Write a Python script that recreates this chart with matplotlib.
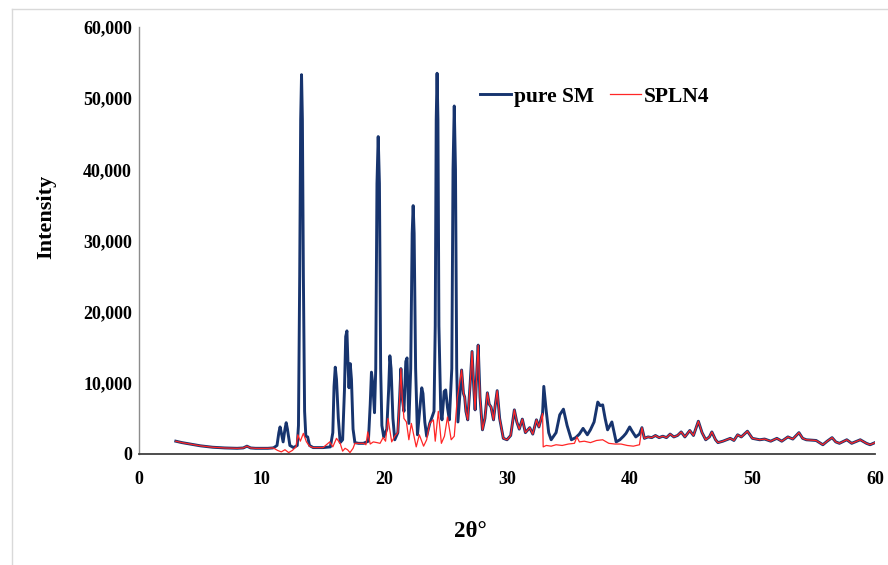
import matplotlib
matplotlib.use("Agg")
import numpy as np
from matplotlib import pyplot as plt
from matplotlib.lines import Line2D
from matplotlib.ticker import FuncFormatter

plt.rcParams['font.family'] = ['Liberation Serif', 'DejaVu Serif']
plt.rcParams['font.weight'] = 'bold'

# low-angle stretch, identical for both samples
start_x = [3.0, 3.5, 4.0, 4.5, 5.0, 5.5, 6.0, 7.0, 8.0, 8.5, 8.8, 9.1, 9.5, 10.0, 10.5, 10.9]
start_y = [1800, 1600, 1450, 1300, 1150, 1050, 950, 850, 800, 850, 1100, 850, 800, 800, 800, 850]

# pure SM, 11-26 deg
sm_a_x = [11.0, 11.25, 11.4, 11.5, 11.6, 11.75, 11.9, 12.0, 12.1, 12.3, 12.6, 12.9, 13.0, 13.1,
          13.18, 13.25, 13.32, 13.4, 13.5, 13.6, 13.75, 13.9, 14.2, 15.0, 15.6, 15.8, 15.9, 16.0,
          16.1, 16.25, 16.4, 16.6, 16.75, 16.85, 16.95, 17.05, 17.12, 17.22, 17.32, 17.45, 17.6,
          17.9, 18.3, 18.7, 18.85, 18.95, 19.05, 19.2, 19.3, 19.4, 19.5, 19.6, 19.7, 19.8, 19.95,
          20.2, 20.35, 20.45, 20.55, 20.7, 20.85, 21.1, 21.25, 21.35, 21.45, 21.6, 21.75, 21.85,
          22.0, 22.15, 22.27, 22.35, 22.43, 22.55, 22.7, 22.9, 23.05, 23.15, 23.3, 23.45, 23.7,
          23.85, 24.05, 24.15, 24.23, 24.3, 24.37, 24.45, 24.6, 24.7, 24.88, 25.0, 25.15, 25.3,
          25.5, 25.6, 25.7, 25.8, 25.9, 26.0]
sm_a_y = [900, 1200, 3000, 3800, 3000, 1700, 3500, 4400, 3500, 1200, 900, 1200, 4000, 25000,
          47000, 53300, 47000, 25000, 6000, 2500, 2400, 1200, 900, 900, 1000, 3000, 9500, 12200,
          10500, 5000, 1600, 2000, 9000, 16500, 17300, 12000, 9300, 12700, 10500, 3500, 1600,
          1500, 1500, 1800, 7000, 11500, 10000, 5800, 12000, 38000, 44600, 38000, 12000, 4000, 2400,
          3500, 9000, 13800, 12000, 5000, 2000, 3000, 8000, 12000, 8000, 6000, 13000, 13500,
          4300, 12000, 31000, 34900, 31000, 12000, 2700, 6500, 9300, 8500, 4500, 2500, 4300,
          5000, 6000, 18000, 47000, 53500, 47000, 18000, 6000, 4800, 8800, 9000, 6500, 4800,
          12000, 40000, 48900, 40000, 12000, 4500]

# SPLN4, 11-26 deg
spln_a_x = [11.0, 11.3, 11.6, 11.9, 12.2, 12.5, 12.8, 12.95, 13.15, 13.4, 13.65, 13.9, 14.2,
            15.0, 15.55, 15.8, 16.1, 16.4, 16.6, 16.8, 17.0, 17.2, 17.45, 17.6, 17.9, 18.3,
            18.5, 18.65, 18.85, 19.1, 19.4, 19.65, 19.9, 20.1, 20.3, 20.6, 20.85, 21.1, 21.25,
            21.35, 21.45, 21.6, 21.8, 22.0, 22.2, 22.6, 22.85, 23.2, 23.45, 23.7, 24.0, 24.15,
            24.4, 24.65, 24.9, 25.15, 25.45, 25.7, 25.95]
spln_a_y = [800, 500, 300, 600, 200, 500, 1000, 2700, 1800, 2900, 1700, 1100, 900,
            900, 1700, 1000, 2200, 1500, 400, 800, 600, 200, 800, 1500, 1500, 1500,
            1300, 3100, 1400, 1700, 1600, 1500, 2300, 1800, 5000, 1700, 2500, 3000, 8000,
            12000, 8000, 5000, 4500, 2000, 4300, 1000, 2700, 1100, 2000, 4300, 4800, 1800,
            6000, 1500, 2500, 5200, 2000, 2500, 7900]

# 26-33 deg, identical for both samples
mid_x = [26.3, 26.45, 26.55, 26.65, 26.8, 27.0, 27.15, 27.3, 27.4, 27.55, 27.65, 27.8, 28.0,
         28.2, 28.4, 28.55, 28.7, 28.9, 29.05, 29.2, 29.4, 29.7, 30.0, 30.3, 30.6, 30.8, 31.0,
         31.25, 31.5, 31.85, 32.1, 32.4, 32.6, 32.9]
mid_y = [11800, 8500, 8000, 6000, 4800, 10000, 14400, 9000, 6200, 12000, 15300, 8000, 3400,
         5000, 8600, 7000, 6600, 4800, 7000, 8900, 5000, 2200, 2000, 2600, 6200, 4500, 3500,
         4900, 3000, 3700, 2800, 4800, 3800, 5700]

# pure SM, 33-41 deg
sm_b_x = [33.0, 33.2, 33.4, 33.6, 34.0, 34.3, 34.6, 34.9, 35.25, 35.6, 35.9, 36.2, 36.55, 36.8,
          37.1, 37.4, 37.6, 37.8, 38.0, 38.2, 38.55, 38.9, 39.2, 39.5, 39.7, 40.0, 40.2, 40.5, 40.8]
sm_b_y = [9500, 6000, 3000, 2000, 3000, 5500, 6300, 4000, 2000, 2300, 2800, 3600, 2700, 3400,
          4500, 7300, 6800, 6900, 5000, 3400, 4500, 1700, 2000, 2500, 2900, 3800, 3200, 2400, 2800]

# SPLN4, 33-41 deg
spln_b_x = [32.95, 33.2, 33.6, 34.0, 34.5, 35.0, 35.5, 35.7, 35.9, 36.3, 36.8, 37.3, 37.8,
            38.3, 38.8, 39.3, 39.8, 40.3, 40.8]
spln_b_y = [1000, 1200, 1100, 1300, 1200, 1400, 1500, 2400, 1700, 1800, 1600, 1900, 2000,
            1500, 1400, 1400, 1200, 1100, 1300]

# high-angle tail, identical for both samples
tail_x = [41.0, 41.2, 41.5, 41.8, 42.1, 42.4, 42.7, 43.0, 43.3, 43.6, 43.9, 44.2, 44.5, 44.9,
          45.2, 45.6, 45.9, 46.2, 46.5, 46.7, 47.0, 47.2, 47.6, 48.2, 48.5, 48.8, 49.1, 49.6,
          50.0, 50.6, 51.0, 51.5, 52.0, 52.4, 52.9, 53.3, 53.8, 54.1, 54.4, 55.2, 55.75, 56.1,
          56.5, 56.8, 57.1, 57.7, 58.1, 58.8, 59.3, 59.6, 60.0]
tail_y = [3700, 2200, 2400, 2300, 2600, 2300, 2500, 2300, 2800, 2400, 2600, 3100, 2400, 3300,
          2600, 4600, 3000, 2000, 2400, 3100, 2000, 1600, 1800, 2200, 1900, 2700, 2400, 3200,
          2200, 2000, 2100, 1800, 2200, 1800, 2400, 2100, 3000, 2200, 2000, 1900, 1300, 1800,
          2300, 1700, 1500, 2000, 1500, 2000, 1500, 1300, 1600]

sm_x = np.r_[start_x, sm_a_x, mid_x, sm_b_x, tail_x]
sm_y = np.r_[start_y, sm_a_y, mid_y, sm_b_y, tail_y]
spln_x = np.r_[start_x, spln_a_x, mid_x, spln_b_x, tail_x]
spln_y = np.r_[start_y, spln_a_y, mid_y, spln_b_y, tail_y]

fig = plt.figure(figsize=(8.88, 5.65), dpi=100)
ax = fig.add_axes([139 / 888, 1 - 454 / 565, 736 / 888, 427 / 565])

ax.plot(sm_x, sm_y, color='#17346e', lw=2.1, solid_joinstyle='round', label='pure SM')
ax.plot(spln_x, spln_y, color='#ff2626', lw=0.9, solid_joinstyle='round', label='SPLN4')

ax.set_xlim(0, 60)
ax.set_ylim(0, 60000)
ax.set_xticks(np.arange(0, 61, 10))
ax.set_yticks(np.arange(0, 60001, 10000))
ax.yaxis.set_major_formatter(FuncFormatter(lambda v, p: f"{int(v):,}"))
ax.tick_params(length=0, labelsize=13)
ax.tick_params(axis='x', pad=12)
ax.tick_params(axis='y', pad=5)

for s in ('top', 'right'):
    ax.spines[s].set_visible(False)
ax.spines['left'].set_color('#8c8c8c')
ax.spines['left'].set_linewidth(1.0)
ax.spines['bottom'].set_color('#3f3f3f')
ax.spines['bottom'].set_linewidth(1.3)

ax.set_xlabel('2θ°', fontsize=16.5, fontweight='bold')
ax.xaxis.set_label_coords(0.45, -0.158)
ax.set_ylabel('Intensity', fontsize=16, fontweight='bold')
ax.yaxis.set_label_coords(-0.112, 0.556)

ax.legend(loc='center left', bbox_to_anchor=(0.463, 0.837), ncol=2, frameon=False,
          handlelength=1.45, handletextpad=0.12, columnspacing=0.75,
          borderpad=0, borderaxespad=0, prop={'weight': 'bold', 'size': 15.5})

# thin grey frame around the chart area
fig.add_artist(Line2D([12 / 888, 12 / 888], [0, 1 - 9 / 565], color='#d9d9d9', lw=1))
fig.add_artist(Line2D([12 / 888, 1], [1 - 9 / 565, 1 - 9 / 565], color='#d9d9d9', lw=1))

fig.savefig('out.png', dpi=100)
